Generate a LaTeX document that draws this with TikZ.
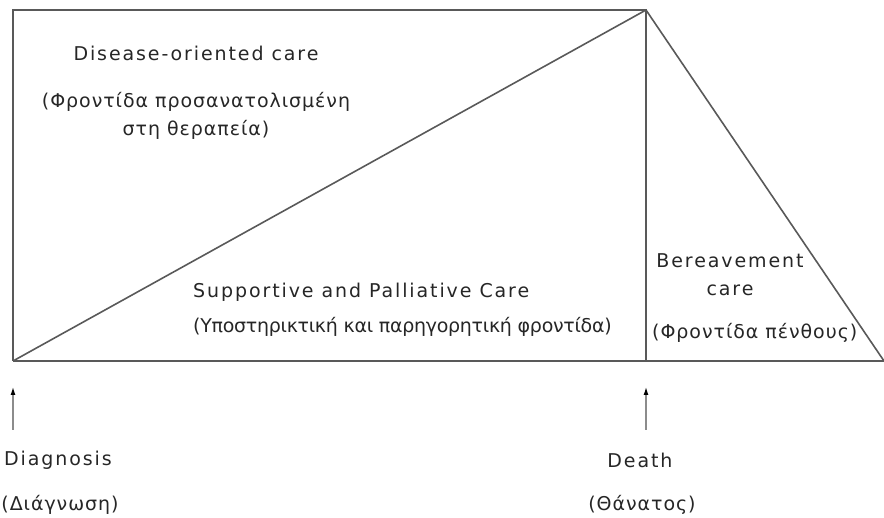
\documentclass[tikz,border=0pt]{standalone}
\usepackage{fontspec}
\usetikzlibrary{arrows.meta}
\newfontfamily\latfont[LetterSpace=10]{DejaVu Sans}
\newfontfamily\grfont[LetterSpace=5]{DejaVu Sans}
\newfontfamily\grtight[LetterSpace=-1.5]{DejaVu Sans}
\begin{document}
\begin{tikzpicture}[x=1pt,y=-1pt,
  lbl/.style={font=\latfont\fontsize{19}{28}\selectfont, text=black!85, inner sep=0pt},
  glbl/.style={font=\grfont\fontsize{19}{28}\selectfont, text=black!85, inner sep=0pt},
  gtlbl/.style={font=\grtight\fontsize{19}{28}\selectfont, text=black!85, inner sep=0pt},
  edge/.style={draw=black!65, line width=1.6pt},
  pointer/.style={draw=black!45, line width=1.2pt, -{Latex[black,length=8pt,width=5pt]}}]
\useasboundingbox (0,0) rectangle (884,518);
\coordinate (A) at (13,10);
\coordinate (B) at (646,10);
\coordinate (C) at (646,361);
\coordinate (D) at (13,361);
\coordinate (E) at (884,361);
\draw[edge] (D) -- (A) -- (B) -- (C);
\draw[edge] (D) -- (E);
\draw[edge] (D) -- (B);
\draw[edge] (B) -- (E);
\coordinate (a1s) at (13,430);
\coordinate (a1e) at (13,387);
\coordinate (a2s) at (646,430);
\coordinate (a2e) at (646,387);
\draw[pointer] (a1s) -- (a1e);
\draw[pointer] (a2s) -- (a2e);
\node[lbl] (dis) at (196,53) {Disease-oriented care};
\node[glbl, align=center] (disg) at (196,116) {(Φροντίδα προσανατολισμένη\\στη θεραπεία)};
\node[lbl, anchor=west] (sup) at (193,292) {Supportive and Palliative Care};
\node[gtlbl, anchor=west] (supg) at (193,327) {(Υποστηρικτική και παρηγορητική φροντίδα)};
\node[lbl, align=center] (ber) at (730,275) {Bereavement\\care};
\node[glbl, anchor=west] (berg) at (652,333) {(Φροντίδα πένθους)};
\node[lbl] (diag) at (58,460) {Diagnosis};
\node[glbl] (diagg) at (60,505) {(Διάγνωση)};
\node[lbl] (death) at (640,460) {Death};
\node[glbl] (deathg) at (642,505) {(Θάνατος)};
\end{tikzpicture}
\end{document}
